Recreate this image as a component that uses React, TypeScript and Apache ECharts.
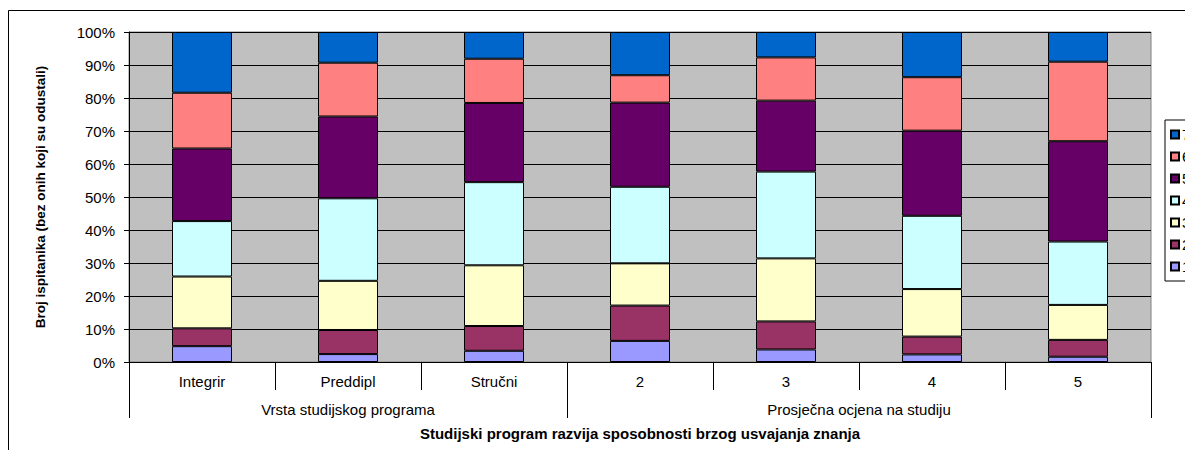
import React, { useEffect, useRef } from "react";
import * as echarts from "echarts";

const categories = ["Integrir", "Preddipl", "Stručni", "2", "3", "4", "5"];
const groupNames = ["Vrsta studijskog programa", "Prosječna ocjena na studiju"];
const groupSizes = [3, 4];
const seriesNames = ["1", "2", "3", "4", "5", "6", "7"];
const colors = ["#9999FF", "#993366", "#FFFFCC", "#CCFFFF", "#660066", "#FF8080", "#0066CC"];

// percentage share of each answer (1..7) per category
const s1 = [4.8, 2.4, 3.4, 6.4, 3.8, 2.3, 1.6];
const s2 = [5.4, 7.3, 7.5, 10.7, 8.5, 5.4, 5.1];
const s3 = [15.7, 14.9, 18.4, 12.8, 19.1, 14.4, 10.6];
const s4 = [16.8, 25.0, 25.2, 23.2, 26.3, 22.2, 19.2];
const s5 = [22.0, 24.8, 24.0, 25.5, 21.5, 25.8, 30.4];
const s6 = [16.9, 16.3, 13.4, 8.3, 13.1, 16.2, 24.1];
const s7 = [18.4, 9.3, 8.1, 13.1, 7.7, 13.7, 9.0];
const seriesValues = [s1, s2, s3, s4, s5, s6, s7];

const yTicks = [0, 10, 20, 30, 40, 50, 60, 70, 80, 90, 100];
const yTitle = "Broj ispitanika (bez onih koji su odustali)";
const xTitle = "Studijski program razvija sposobnosti brzog usvajanja znanja";

const FONT = "'Liberation Sans', Arial, sans-serif";

export default function App() {
  const ref = useRef<HTMLDivElement>(null);
  useEffect(() => {
    if (!ref.current) return;
    const chart = echarts.init(ref.current, undefined, { renderer: "svg" });

    const bounds: number[] = [0];
    groupSizes.forEach((n) => bounds.push(bounds[bounds.length - 1] + n));
    const centers = groupSizes.map((n, i) => bounds[i] + n / 2);

    chart.setOption({
      animation: false,
      backgroundColor: "#ffffff",
      textStyle: { fontFamily: FONT },
      graphic: [
        {
          type: "rect",
          silent: true,
          z: -10,
          shape: { x: 0.5, y: 2.5, width: 1400, height: 700 },
          style: { fill: "none", stroke: "#000", lineWidth: 1 },
        },
      ],
      grid: {
        left: 121,
        top: 24,
        width: 1022,
        height: 330,
        show: true,
        backgroundColor: "#C0C0C0",
        borderColor: "#808080",
        borderWidth: 1,
      },
      legend: {
        orient: "vertical",
        left: 1157,
        top: 112,
        data: seriesNames.slice().reverse(),
        itemWidth: 8,
        itemHeight: 8,
        itemGap: 7,
        icon: "rect",
        padding: [7, 6, 7, 5],
        borderColor: "#000",
        borderWidth: 1,
        backgroundColor: "#fff",
        textStyle: { fontFamily: FONT, fontSize: 15, color: "#000", padding: [0, 0, 0, -2] },
      },
      xAxis: [
        {
          type: "category",
          data: categories,
          boundaryGap: true,
          axisLine: { show: true, lineStyle: { color: "#000", width: 1 } },
          axisTick: { show: true, interval: 0, length: 28, lineStyle: { color: "#000" } },
          axisLabel: { interval: 0, margin: 12, fontSize: 15, color: "#000", fontFamily: FONT },
          splitLine: { show: false },
        },
        {
          type: "value",
          position: "bottom",
          min: 0,
          max: bounds[bounds.length - 1],
          axisLine: { show: false },
          splitLine: { show: false },
          axisTick: { show: true, customValues: bounds, length: 56, lineStyle: { color: "#000" } },
          axisLabel: {
            customValues: centers,
            formatter: (v: number) => {
              const i = centers.findIndex((c) => Math.abs(c - v) < 1e-6);
              return i >= 0 ? groupNames[i] : "";
            },
            margin: 40,
            fontSize: 15,
            color: "#000",
            fontFamily: FONT,
          },
          name: xTitle,
          nameLocation: "middle",
          nameGap: 64,
          nameTextStyle: { fontSize: 15, fontWeight: "bold", color: "#000", fontFamily: FONT },
        },
      ],
      yAxis: {
        type: "value",
        min: yTicks[0],
        max: yTicks[yTicks.length - 1],
        interval: 10,
        axisLine: { show: true, lineStyle: { color: "#000" } },
        axisTick: { show: true, length: 5, lineStyle: { color: "#000" } },
        axisLabel: { formatter: "{value}%", margin: 14, fontSize: 15, color: "#000", fontFamily: FONT },
        splitLine: { show: true, lineStyle: { color: "#000", width: 1 } },
        name: yTitle,
        nameLocation: "middle",
        nameGap: 82,
        nameTextStyle: { fontSize: 13.5, fontWeight: "bold", color: "#000", fontFamily: FONT },
      },
      series: seriesNames.map((name, i) => ({
        name,
        type: "bar",
        stack: "total",
        xAxisIndex: 0,
        barWidth: 60,
        data: seriesValues[i],
        itemStyle: { color: colors[i], borderColor: "#000", borderWidth: 1 },
      })),
    });
    return () => chart.dispose();
  }, []);
  return <div ref={ref} style={{ width: 1185, height: 442 }} />;
}
